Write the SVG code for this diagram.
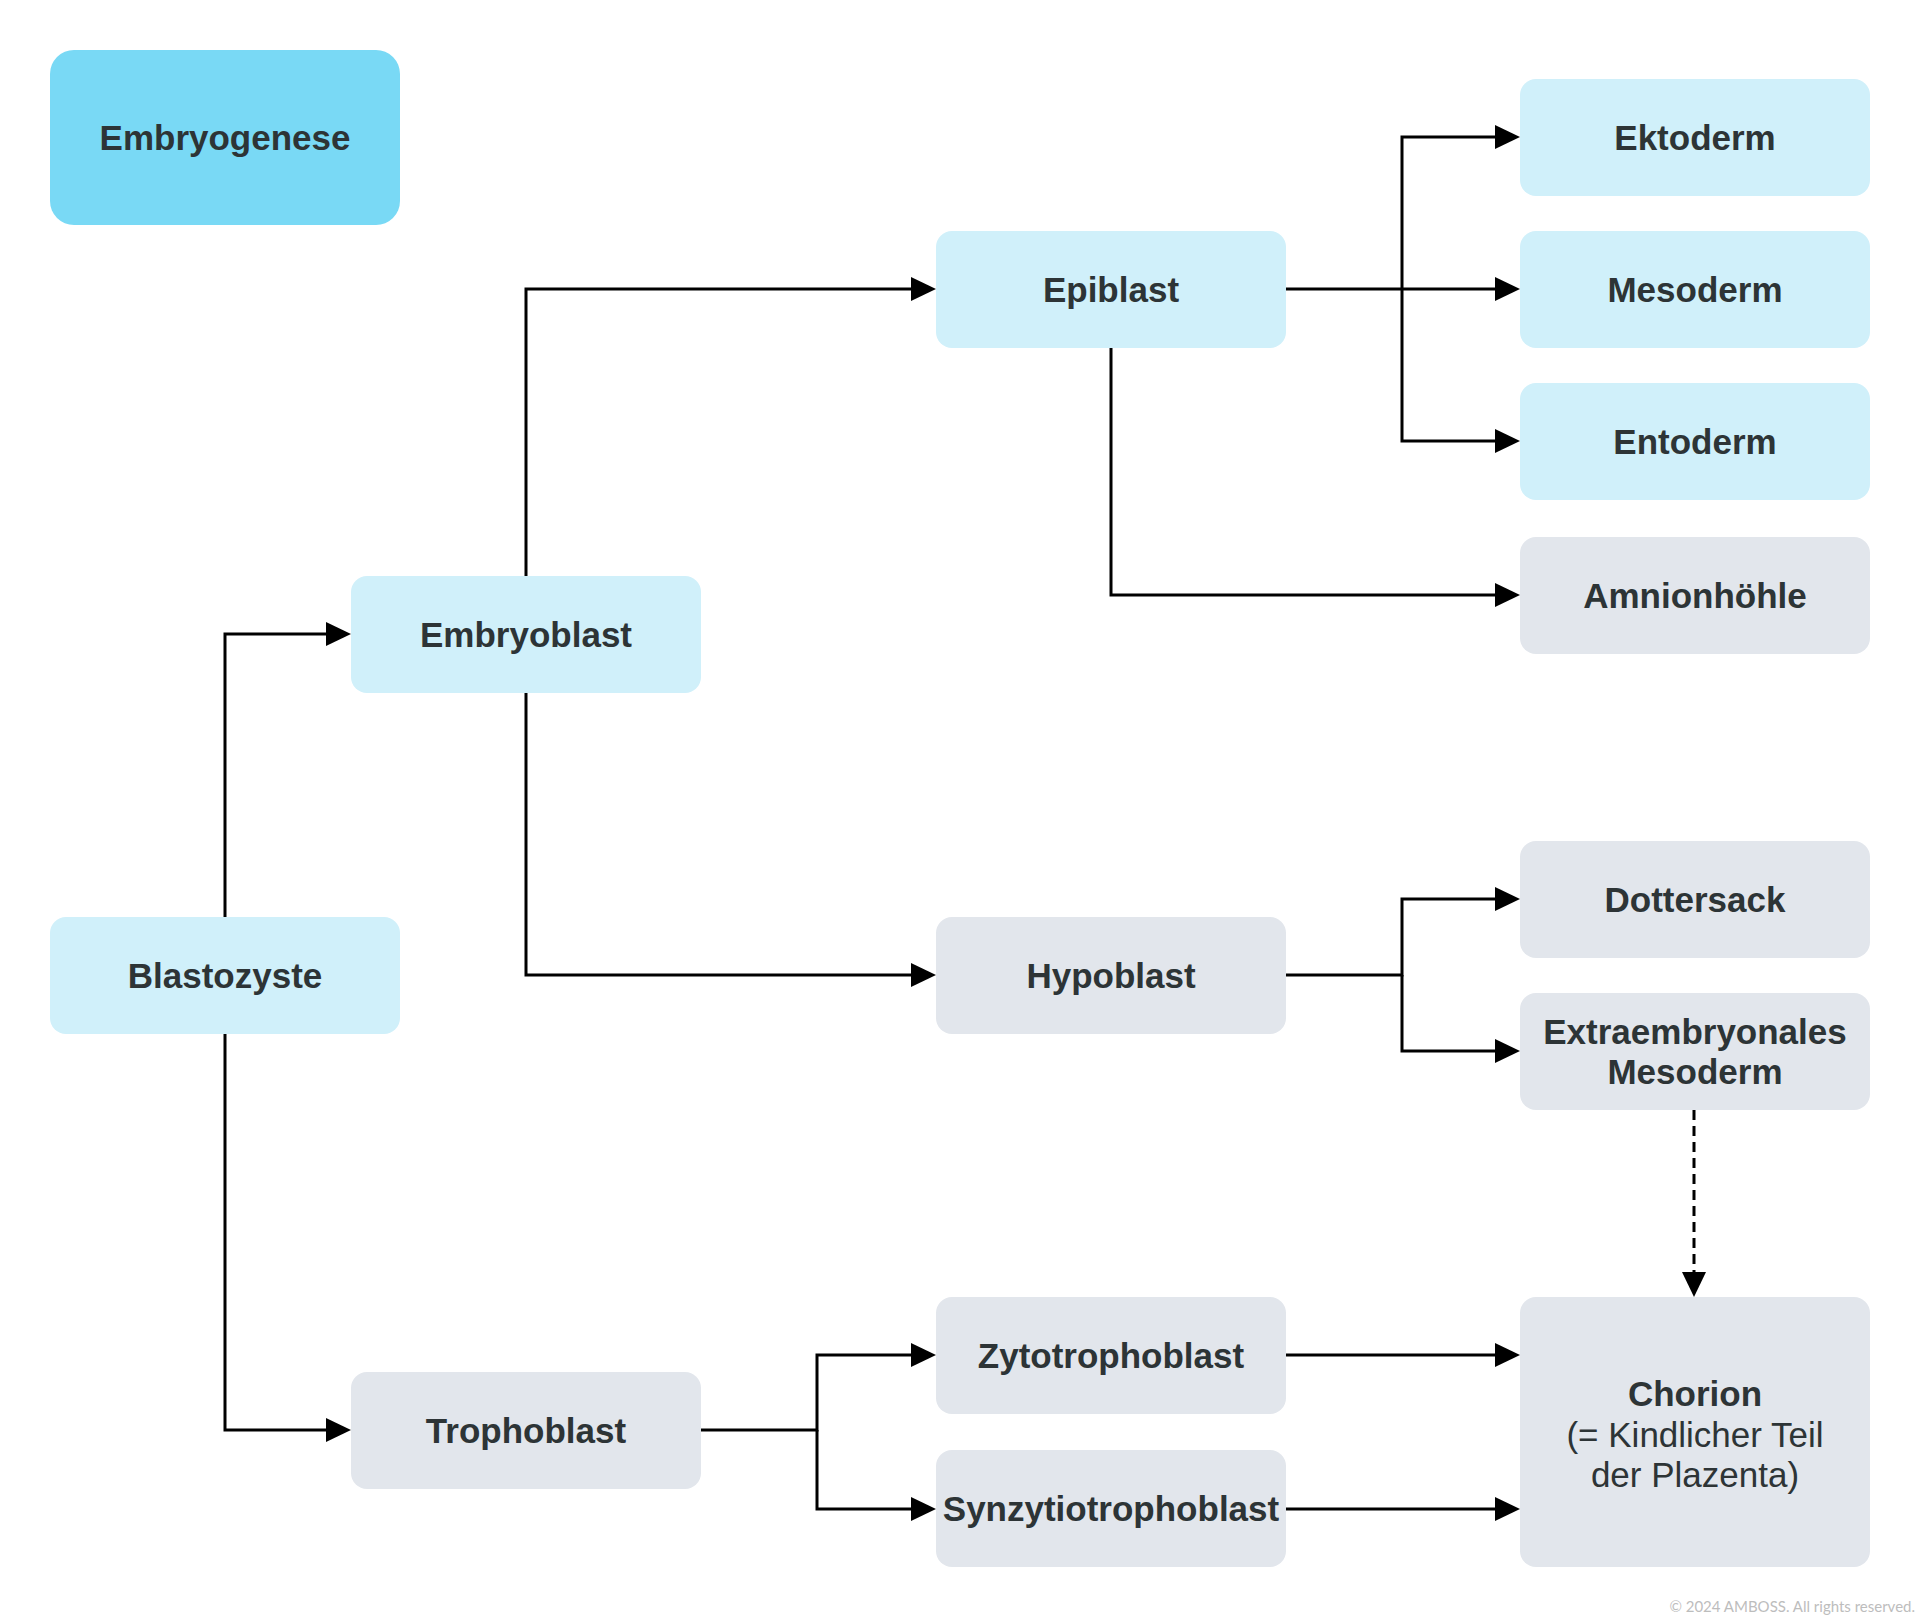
<svg xmlns="http://www.w3.org/2000/svg" width="1920" height="1618" viewBox="0 0 1920 1618">
<defs>
<style>
.n rect{stroke:none}
.blue rect{fill:#D0F0FA}
.grey rect{fill:#E2E6EC}
.top rect{fill:#79D9F5}
text{font-family:"Liberation Sans",Arial,Helvetica,sans-serif;font-size:35px;fill:#2D3436;text-anchor:middle}
.b{font-weight:bold}
.c path{fill:none;stroke:#000;stroke-width:3;marker-end:url(#ah)}
.c path.d{stroke-dasharray:10 6}
.copy{font-family:Lato,"Liberation Sans",sans-serif;font-size:15px;fill:#BDBDBD;text-anchor:end}
</style>
<marker id="ah" markerUnits="userSpaceOnUse" markerWidth="25" markerHeight="24" viewBox="0 0 25 24" refX="0" refY="12" orient="auto">
<path d="M0,0 L25,12 L0,24 z" fill="#000"/>
</marker>
</defs>
<rect width="1920" height="1618" fill="#FFFFFF"/>
<g id="connectors" class="c">
<path d="M225 917 V634 H326"/>
<path d="M225 1034 V1430 H326"/>
<path d="M526 576 V289 H911"/>
<path d="M526 693 V975 H911"/>
<path d="M1286 289 H1495"/>
<path d="M1402 289 V137 H1495"/>
<path d="M1402 289 V441 H1495"/>
<path d="M1111 348 V595 H1495"/>
<path d="M1286 975 H1402 V899 H1495"/>
<path d="M1402 975 V1051 H1495"/>
<path d="M701 1430 H817 V1355 H911"/>
<path d="M817 1430 V1509 H911"/>
<path d="M1286 1355 H1495"/>
<path d="M1286 1509 H1495"/>
<path class="d" d="M1694 1110 V1272"/>
</g>
<g id="embryogenese" class="n top"><rect x="50" y="50" width="350" height="175" rx="24"/><text class="b" x="225" y="150">Embryogenese</text></g>
<g id="ektoderm" class="n blue"><rect x="1520" y="79" width="350" height="117" rx="16"/><text class="b" x="1695" y="150">Ektoderm</text></g>
<g id="mesoderm" class="n blue"><rect x="1520" y="231" width="350" height="117" rx="16"/><text class="b" x="1695" y="302">Mesoderm</text></g>
<g id="entoderm" class="n blue"><rect x="1520" y="383" width="350" height="117" rx="16"/><text class="b" x="1695" y="454">Entoderm</text></g>
<g id="amnionhoehle" class="n grey"><rect x="1520" y="537" width="350" height="117" rx="16"/><text class="b" x="1695" y="608">Amnionhöhle</text></g>
<g id="epiblast" class="n blue"><rect x="936" y="231" width="350" height="117" rx="16"/><text class="b" x="1111" y="302">Epiblast</text></g>
<g id="embryoblast" class="n blue"><rect x="351" y="576" width="350" height="117" rx="16"/><text class="b" x="526" y="647">Embryoblast</text></g>
<g id="blastozyste" class="n blue"><rect x="50" y="917" width="350" height="117" rx="16"/><text class="b" x="225" y="988">Blastozyste</text></g>
<g id="hypoblast" class="n grey"><rect x="936" y="917" width="350" height="117" rx="16"/><text class="b" x="1111" y="988">Hypoblast</text></g>
<g id="dottersack" class="n grey"><rect x="1520" y="841" width="350" height="117" rx="16"/><text class="b" x="1695" y="912">Dottersack</text></g>
<g id="extraembryonales-mesoderm" class="n grey"><rect x="1520" y="993" width="350" height="117" rx="16"/><text class="b" x="1695" y="1044">Extraembryonales</text><text class="b" x="1695" y="1084">Mesoderm</text></g>
<g id="zytotrophoblast" class="n grey"><rect x="936" y="1297" width="350" height="117" rx="16"/><text class="b" x="1111" y="1368">Zytotrophoblast</text></g>
<g id="trophoblast" class="n grey"><rect x="351" y="1372" width="350" height="117" rx="16"/><text class="b" x="526" y="1443">Trophoblast</text></g>
<g id="synzytiotrophoblast" class="n grey"><rect x="936" y="1450" width="350" height="117" rx="16"/><text class="b" x="1111" y="1521">Synzytiotrophoblast</text></g>
<g id="chorion" class="n grey"><rect x="1520" y="1297" width="350" height="270" rx="16"/><text class="b" x="1695" y="1406">Chorion</text><text x="1695" y="1447">(= Kindlicher Teil</text><text x="1695" y="1487">der Plazenta)</text></g>
<text class="copy" x="1915" y="1612">© 2024 AMBOSS. All rights reserved.</text>
</svg>
